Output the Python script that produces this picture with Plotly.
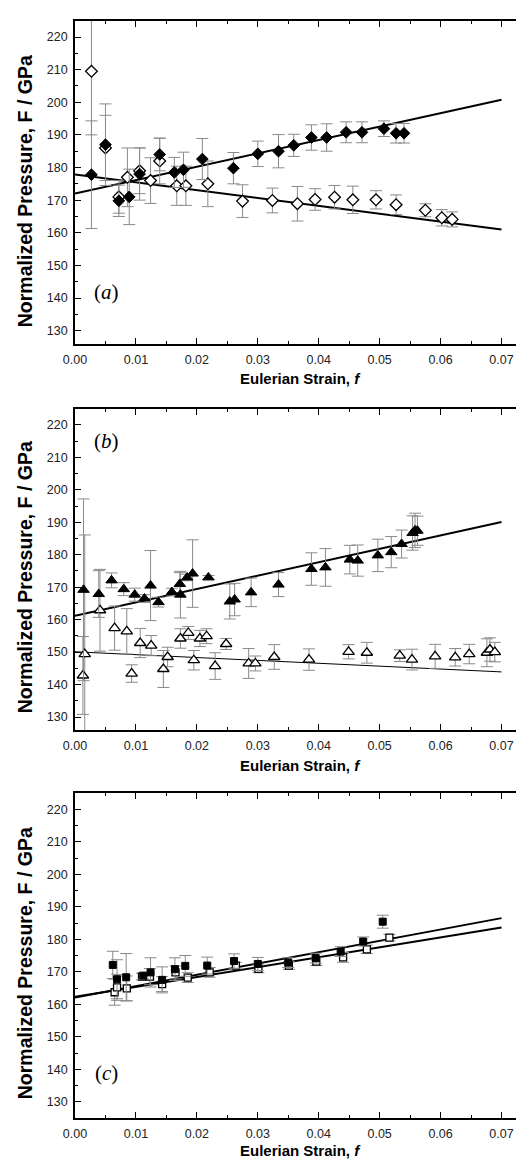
import plotly.graph_objects as go

W, H = 524, 1162
ML, MR = 67, 0

# ---------------- Panel (a): diamonds ----------------
a_filled_f = [0.0027, 0.0050, 0.0072, 0.0089, 0.0106, 0.0139, 0.0163, 0.0178, 0.0209, 0.0260,
              0.0300, 0.0334, 0.0359, 0.0388, 0.0413, 0.0445, 0.0471, 0.0507, 0.0527, 0.0540]
a_filled_F = [177.8, 187.0, 169.8, 171.0, 178.0, 184.0, 178.5, 179.3, 182.6, 179.8,
              184.2, 185.0, 186.8, 189.2, 189.2, 190.8, 190.8, 191.9, 190.5, 190.5]
a_filled_err = [16.5, 12.5, 4.8, 8.5, 8.0, 5.0, 4.6, 5.4, 6.3, 4.8,
                3.9, 5.1, 3.4, 3.9, 4.2, 3.2, 3.2, 2.4, 3.0, 3.0]

a_open_f = [0.0027, 0.0050, 0.0072, 0.0086, 0.0106, 0.0124, 0.0139, 0.0167, 0.0182, 0.0218,
            0.0275, 0.0324, 0.0365, 0.0394, 0.0426, 0.0456, 0.0494, 0.0527, 0.0575, 0.0602, 0.0619]
a_open_F = [209.5, 186.0, 171.0, 177.0, 179.0, 176.0, 182.0, 174.4, 174.4, 175.0,
            169.7, 169.9, 168.9, 170.2, 170.9, 170.1, 170.1, 168.6, 166.9, 164.6, 164.1]
a_open_err = [19.5, 10.0, 5.0, 9.0, 7.0, 7.0, 7.0, 6.0, 6.0, 7.0,
              5.0, 3.8, 5.3, 3.3, 3.6, 4.2, 2.8, 3.0, 2.0, 2.5, 2.3]

a_fit_f = [0.0, 0.07]
a_fit_filled_F = [172.0, 200.8]
a_fit_open_F = [177.9, 161.0]

# ---------------- Panel (b): triangles ----------------
b_filled_f = [0.0014, 0.0039, 0.0060, 0.0080, 0.0098, 0.0114, 0.0124, 0.0137, 0.0159, 0.0172,
              0.0173, 0.0184, 0.0193, 0.0219, 0.0254, 0.0262, 0.0289, 0.0334, 0.0388, 0.0411,
              0.0451, 0.0464, 0.0497, 0.0519, 0.0536, 0.0554, 0.0558, 0.0562]
b_filled_F = [169.2, 167.9, 172.1, 169.4, 167.7, 166.5, 170.5, 165.4, 168.5, 171.0,
              167.7, 173.0, 174.2, 173.0, 165.6, 166.2, 168.4, 170.8, 175.6, 176.1,
              178.5, 178.2, 179.8, 180.8, 183.3, 186.7, 187.5, 187.4]
b_filled_err = [28.0, 7.2, 2.3, 2.0, 2.0, 1.2, 10.8, 1.5, 1.2, 3.5,
                7.2, 1.0, 10.4, 0.6, 5.4, 5.0, 4.4, 3.7, 5.0, 5.8,
                4.4, 4.8, 5.0, 4.8, 4.3, 5.3, 5.3, 4.5]

b_open_f = [0.0013, 0.0016, 0.0041, 0.0065, 0.0085, 0.0093, 0.0107, 0.0125, 0.0145, 0.0152,
            0.0173, 0.0186, 0.0195, 0.0205, 0.0216, 0.0230, 0.0248, 0.0285, 0.0296, 0.0327,
            0.0384, 0.0449, 0.0479, 0.0533, 0.0553, 0.0591, 0.0624, 0.0647, 0.0676, 0.0681, 0.0689]
b_open_F = [142.8, 149.4, 162.9, 157.4, 156.4, 143.4, 152.8, 152.0, 144.8, 148.5,
            154.2, 155.9, 147.5, 154.2, 154.9, 145.7, 152.5, 146.5, 146.5, 148.5,
            147.7, 150.1, 149.8, 148.9, 147.7, 148.7, 148.4, 149.4, 149.8, 150.8, 150.0]
b_open_err = [12.0, 36.7, 12.6, 6.8, 7.0, 2.7, 4.5, 3.1, 5.7, 3.0,
              3.0, 2.0, 3.0, 2.5, 2.3, 4.1, 1.7, 4.6, 2.3, 3.8,
              3.3, 2.2, 3.2, 1.8, 3.2, 3.7, 2.7, 3.0, 4.3, 3.6, 3.0]

b_fit_f = [0.0, 0.07]
b_fit_filled_F = [161.2, 190.1]
b_fit_open_F = [150.1, 143.9]

# ---------------- Panel (c): squares ----------------
c_filled_f = [0.0062, 0.0069, 0.0084, 0.0112, 0.0124, 0.0143, 0.0164, 0.0181, 0.0217, 0.0261,
              0.0300, 0.0350, 0.0395, 0.0436, 0.0473, 0.0505]
c_filled_F = [172.1, 167.7, 168.3, 168.8, 169.8, 167.5, 170.8, 171.8, 171.9, 173.3,
              172.4, 172.8, 174.2, 176.2, 179.3, 185.4]
c_filled_err = [4.2, 6.0, 7.3, 1.0, 4.5, 4.0, 3.5, 3.2, 2.6, 2.2,
                2.0, 1.5, 1.5, 1.5, 1.4, 2.0]

c_open_f = [0.0065, 0.0069, 0.0085, 0.0110, 0.0123, 0.0143, 0.0165, 0.0185, 0.0221, 0.0264,
            0.0301, 0.0351, 0.0396, 0.0440, 0.0479, 0.0516]
c_open_F = [163.7, 165.2, 164.9, 168.5, 168.5, 166.2, 169.8, 168.2, 169.8, 171.9,
            170.9, 171.9, 173.1, 174.4, 176.9, 180.5]
c_open_err = [4.0, 4.0, 3.8, 1.0, 2.5, 2.3, 2.0, 1.5, 1.5, 1.0,
              1.2, 1.2, 1.2, 1.5, 1.3, 1.0]

c_fit_f = [0.0, 0.07]
c_fit_filled_F = [162.1, 186.5]
c_fit_open_F = [162.3, 183.6]

panel_labels = ["a", "b", "c"]
x_ticks = [0.00, 0.01, 0.02, 0.03, 0.04, 0.05, 0.06, 0.07]
y_ticks = [130, 140, 150, 160, 170, 180, 190, 200, 210, 220]

# panel pixel geometry (top, bottom) and y ranges
panels_px = [(12.7, 335.7), (400.7, 722.0), (785.0, 1110.0)]
y_ranges = [[126.0, 225.0], [126.0, 225.0], [125.0, 225.0]]
x_range = [0.0, (W - ML - MR) / 6120.0]
xtitle_y = [371, 757, 1142]
ytitle_y = [183, 569, 955]
label_pos = [(99, 289), (99, 438), (99, 1070)]

ERR_COLOR = "#8a8a8a"
FONT = "Liberation Sans"


def err(arr):
    return dict(type="data", array=arr, visible=True, color=ERR_COLOR, thickness=1, width=6)


fig = go.Figure()


def add_panel(i, fit_f, fit_filled, fit_open, filled, opened, symbol, size, open_lw=2.0):
    xa = "x" if i == 0 else f"x{i+1}"
    ya = "y" if i == 0 else f"y{i+1}"
    fig.add_trace(go.Scatter(x=fit_f, y=fit_filled, mode="lines",
                             line=dict(color="black", width=2), xaxis=xa, yaxis=ya,
                             showlegend=False, hoverinfo="skip"))
    fig.add_trace(go.Scatter(x=fit_f, y=fit_open, mode="lines",
                             line=dict(color="black", width=open_lw), xaxis=xa, yaxis=ya,
                             showlegend=False, hoverinfo="skip"))
    of, oF, oe = opened
    fig.add_trace(go.Scatter(x=of, y=oF, mode="markers", error_y=err(oe),
                             marker=dict(symbol=symbol, size=size, color="white",
                                         line=dict(color="black", width=1.3)),
                             xaxis=xa, yaxis=ya, showlegend=False))
    ff, fF, fe = filled
    fig.add_trace(go.Scatter(x=ff, y=fF, mode="markers", error_y=err(fe),
                             marker=dict(symbol=symbol, size=size, color="black",
                                         line=dict(color="black", width=1)),
                             xaxis=xa, yaxis=ya, showlegend=False))


add_panel(0, a_fit_f, a_fit_filled_F, a_fit_open_F,
          (a_filled_f, a_filled_F, a_filled_err), (a_open_f, a_open_F, a_open_err),
          "diamond", 9)
add_panel(1, b_fit_f, b_fit_filled_F, b_fit_open_F,
          (b_filled_f, b_filled_F, b_filled_err), (b_open_f, b_open_F, b_open_err),
          "triangle-up", 10, open_lw=1.0)
add_panel(2, c_fit_f, c_fit_filled_F, c_fit_open_F,
          (c_filled_f, c_filled_F, c_filled_err), (c_open_f, c_open_F, c_open_err),
          "square", 7)

axis_common = dict(showline=True, linecolor="black", linewidth=1.6, mirror="allticks",
                   ticks="inside", tickcolor="black", tickwidth=1.3, ticklen=6,
                   showgrid=False, zeroline=False,
                   tickfont=dict(family=FONT, size=12.5, color="#222222"))

layout = dict(width=W, height=H, margin=dict(l=ML, r=MR, t=0, b=0),
              plot_bgcolor="white", paper_bgcolor="white", showlegend=False)

annotations = []
plot_w = W - ML - MR
for i, (top, bot) in enumerate(panels_px):
    sfx = "" if i == 0 else str(i + 1)
    dom = [1 - bot / H, 1 - top / H]
    layout["xaxis" + sfx] = dict(axis_common, domain=[0, 1], range=x_range,
                                 anchor="y" + sfx, tickvals=x_ticks, tickformat=".2f",
                                 ticklabelstandoff=3,
                                 minor=dict(ticks="inside", dtick=0.005, ticklen=3,
                                            tickwidth=1.2, tickcolor="black"))
    layout["yaxis" + sfx] = dict(axis_common, domain=dom, range=y_ranges[i],
                                 anchor="x" + sfx, tickvals=y_ticks,
                                 ticklabelstandoff=3,
                                 minor=dict(ticks="inside", dtick=5, ticklen=3,
                                            tickwidth=1.2, tickcolor="black"))
    annotations.append(dict(text="<b>Eulerian Strain, <i>f</i></b>", xref="paper", yref="paper",
                            x=(293.5 - ML) / plot_w, y=1 - xtitle_y[i] / H,
                            xanchor="center", yanchor="middle", showarrow=False,
                            font=dict(family=FONT, size=15, color="black")))
    annotations.append(dict(text="<b>Normalized Pressure, F / GPa</b>", xref="paper", yref="paper",
                            x=(17 - ML) / plot_w, y=1 - ytitle_y[i] / H,
                            xanchor="center", yanchor="middle", textangle=-90, showarrow=False,
                            font=dict(family=FONT, size=19.5, color="black")))

for lab, (px, py) in zip(panel_labels, label_pos):
    annotations.append(dict(text=f"(<i>{lab}</i>)", xref="paper", yref="paper",
                            x=(px - ML) / plot_w, y=1 - (py - 5) / H, xanchor="center",
                            yanchor="middle", showarrow=False,
                            font=dict(family="Liberation Serif", size=21, color="black")))

layout["annotations"] = annotations
fig.update_layout(**layout)
fig.write_html("out.html")
